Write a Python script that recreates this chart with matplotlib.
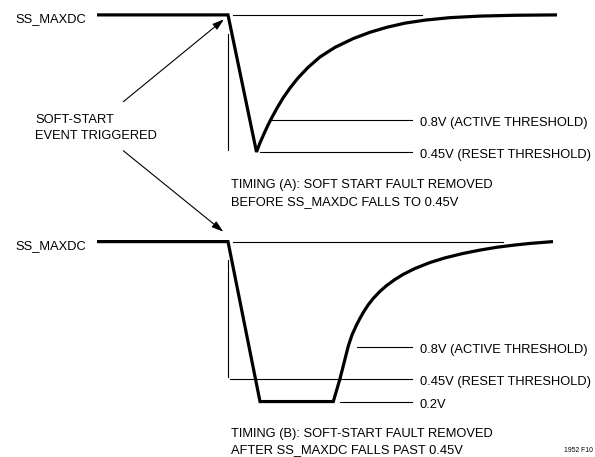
import matplotlib
matplotlib.use("Agg")
import matplotlib.pyplot as plt

plt.rcParams['font.family'] = ['Liberation Sans', 'DejaVu Sans']

# ---- waveform data (time in arbitrary units, SS_MAXDC in volts) ----
V_HIGH = 1.95
V_ACTIVE = 0.80
V_RESET = 0.45
V_FLOOR = 0.20

# Timing (A): fault removed before SS_MAXDC reaches 0.45V
timing_a_t = [-1.31, 0.00, 0.285, 0.32, 0.36, 0.40, 0.44, 0.49, 0.55, 0.62,
              0.70, 0.80, 0.92, 1.07, 1.25, 1.42, 1.59, 1.77, 1.97, 2.22,
              2.52, 2.87, 3.29]
timing_a_v = [1.95, 1.95, 0.45, 0.55, 0.65, 0.745, 0.83, 0.93, 1.04, 1.15,
              1.26, 1.375, 1.49, 1.595, 1.69, 1.76, 1.815, 1.86, 1.893, 1.92,
              1.937, 1.946, 1.95]

# Timing (B): fault removed after SS_MAXDC falls past 0.45V
timing_b_t = [-1.31, 0.00, 0.32, 1.053, 1.12, 1.16, 1.203, 1.24, 1.287, 1.32,
              1.353, 1.40, 1.453, 1.52, 1.587, 1.67, 1.753, 1.87, 2.02, 2.17,
              2.353, 2.52, 2.687, 2.87, 3.02, 3.25]
timing_b_v = [1.95, 1.95, 0.20, 0.20, 0.45, 0.622, 0.807, 0.929, 1.042, 1.111,
              1.175, 1.255, 1.329, 1.406, 1.47, 1.536, 1.592, 1.656, 1.721, 1.772,
              1.821, 1.857, 1.888, 1.913, 1.93, 1.95]

threshold_labels_a = ["0.8V (ACTIVE THRESHOLD)", "0.45V (RESET THRESHOLD)"]
threshold_labels_b = ["0.8V (ACTIVE THRESHOLD)", "0.45V (RESET THRESHOLD)", "0.2V"]

# ---- layout ----
W, H = 595, 457
PX_PER_V = 91.4
PX_PER_T = 100.0
T_ORIGIN_PX = 228.0

fig = plt.figure(figsize=(W / 100, H / 100), dpi=100)

def make_axes(top_px, bottom_px, reset_px):
    ax = fig.add_axes([0, 1 - bottom_px / H, 1, (bottom_px - top_px) / H])
    ax.set_xlim(-T_ORIGIN_PX / PX_PER_T, (W - T_ORIGIN_PX) / PX_PER_T)
    ax.set_ylim(V_RESET - (bottom_px - reset_px) / PX_PER_V,
                V_RESET + (reset_px - top_px) / PX_PER_V)
    ax.axis('off')
    return ax

ax_a = make_axes(0, 228.5, 152.0)
ax_b = make_axes(228.5, H, 378.7)

THICK = dict(color='black', lw=2.3, solid_joinstyle='miter', solid_capstyle='butt')
THIN = dict(color='black', lw=0.8)
FS = 9.3
LABEL_DROP = 0.066

def txt(ax, x, y, s, size=FS, ha='left'):
    ax.text(x, y, s, fontsize=size, ha=ha, va='baseline')

def signal_label(ax):
    txt(ax, -2.13, V_HIGH - 0.082, "SS_MAXDC")

def threshold_text(ax, v, s):
    txt(ax, 1.92, v - LABEL_DROP, s)

# Timing (A)
ax_a.plot(timing_a_t, timing_a_v, **THICK)
ax_a.plot([0.05, 1.94], [V_HIGH, V_HIGH], **THIN)
ax_a.plot([0.003, 0.003], [0.47, 1.74], **THIN)
ax_a.plot([0.44, 1.84], [V_ACTIVE, V_ACTIVE], **THIN)
ax_a.plot([0.32, 1.84], [V_RESET, V_RESET], **THIN)
signal_label(ax_a)
threshold_text(ax_a, V_ACTIVE, threshold_labels_a[0])
threshold_text(ax_a, V_RESET, threshold_labels_a[1])
txt(ax_a, 0.035, 0.053, "TIMING (A): SOFT START FAULT REMOVED")
txt(ax_a, 0.035, -0.13, "BEFORE SS_MAXDC FALLS TO 0.45V")
txt(ax_a, -1.93, 0.767, "SOFT-START")
txt(ax_a, -1.93, 0.587, "EVENT TRIGGERED")

# Timing (B)
ax_b.plot(timing_b_t, timing_b_v, **THICK)
ax_b.plot([0.053, 2.75], [V_HIGH, V_HIGH], **THIN)
ax_b.plot([0.003, 0.003], [0.47, 1.75], **THIN)
ax_b.plot([1.29, 1.84], [V_ACTIVE, V_ACTIVE], **THIN)
ax_b.plot([0.02, 1.84], [V_RESET, V_RESET], **THIN)
ax_b.plot([1.12, 1.84], [V_FLOOR, V_FLOOR], **THIN)
signal_label(ax_b)
threshold_text(ax_b, V_ACTIVE, threshold_labels_b[0])
threshold_text(ax_b, V_RESET, threshold_labels_b[1])
threshold_text(ax_b, V_FLOOR, threshold_labels_b[2])
txt(ax_b, 0.035, -0.185, "TIMING (B): SOFT-START FAULT REMOVED")
txt(ax_b, 0.035, -0.366, "AFTER SS_MAXDC FALLS PAST 0.45V")
txt(ax_b, 3.65, -0.355, "1952 F10", size=4.9, ha='right')

# Arrows from the trigger note to each falling edge
arrow = dict(arrowstyle='-|>,head_length=0.7,head_width=0.22', color='black',
             lw=0.8, shrinkA=0, shrinkB=0)
ax_a.annotate("", xy=(-0.04, 1.902), xytext=(-1.047, 1.00),
              arrowprops=arrow, annotation_clip=False)
ax_b.annotate("", xy=(-0.047, 2.058), xytext=(-1.047, 0.464),
              textcoords=ax_a.transData, arrowprops=arrow, annotation_clip=False)

fig.savefig("out.png", dpi=100, facecolor='white')
